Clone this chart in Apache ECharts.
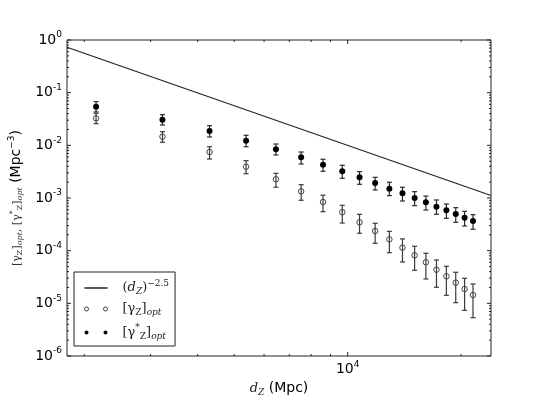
<!DOCTYPE html>
<html>
<head>
<meta charset="utf-8">
<script src="https://cdn.jsdelivr.net/npm/echarts@6.0.0/dist/echarts.min.js"></script>
<style>
html, body { margin: 0; padding: 0; background: #fff; }
#chart { width: 545px; height: 396px; }
</style>
</head>
<body>
<div id="chart"></div>
<script>
// distance bins d_Z (Mpc)
var dz = [2150, 3225, 4300, 5375, 6450, 7525, 8600, 9675, 10750, 11825, 12900, 13975, 15050, 16125, 17200, 18275, 19350, 20425, 21500];

// [gamma*_Z]_opt (filled) with error bar ends
var gStar   = [0.0542, 0.0307, 0.0187, 0.01225, 0.00841, 0.00593, 0.00429, 0.00321, 0.00247, 0.00193, 0.00150, 0.00123, 0.00100, 0.000829, 0.000684, 0.000584, 0.000497, 0.000423, 0.000366];
var gStarLo = [0.0430, 0.0243, 0.0144, 0.00942, 0.00656, 0.00442, 0.00321, 0.00237, 0.00182, 0.00142, 0.00111, 0.000877, 0.000715, 0.000592, 0.000491, 0.000412, 0.000346, 0.000294, 0.000255];
var gStarHi = [0.0674, 0.0382, 0.0236, 0.01551, 0.01060, 0.00747, 0.00543, 0.00418, 0.00316, 0.00247, 0.00199, 0.00160, 0.00132, 0.00109, 0.000917, 0.000769, 0.000655, 0.000559, 0.000482];

// [gamma_Z]_opt (open) with error bar ends
var gOpt   = [0.0326, 0.01459, 0.00747, 0.00393, 0.00227, 0.00134, 0.000840, 0.000536, 0.000346, 0.000236, 0.000164, 0.000114, 8.17e-5, 6.02e-5, 4.35e-5, 3.26e-5, 2.47e-5, 1.87e-5, 1.44e-5];
var gOptLo = [0.0258, 0.01142, 0.00550, 0.00289, 0.00160, 0.000905, 0.000550, 0.000335, 0.000214, 0.000138, 9.15e-5, 6.10e-5, 4.24e-5, 2.90e-5, 2.02e-5, 1.42e-5, 1.03e-5, 7.38e-6, 5.34e-6];
var gOptHi = [0.0406, 0.01815, 0.00942, 0.00511, 0.00294, 0.00179, 0.00113, 0.000727, 0.000491, 0.000331, 0.000233, 0.000167, 0.000121, 8.92e-5, 6.65e-5, 5.05e-5, 3.89e-5, 2.99e-5, 2.33e-5];

// (d_Z)^-2.5 reference line, end points
var powX = [1800, 24000];
var powY = [0.727, 0.00112];

// axes
var xMin = 1800, xMax = 24000, yMin = 1e-6, yMax = 1;
var xMajor = [10000];
var xMinor = [2000, 3000, 4000, 5000, 6000, 7000, 8000, 9000, 20000];
var yMajor = [1e-6, 1e-5, 1e-4, 1e-3, 1e-2, 1e-1, 1];
var mantissa = [2, 3, 4, 5, 6, 7, 8, 9];

var serif = 'DejaVu Serif';
var sans = 'DejaVu Sans';

var tickData = [];
xMajor.forEach(function (v) { tickData.push([v, yMin, 0, -4], [v, yMax, 0, 4]); });
xMinor.forEach(function (v) { tickData.push([v, yMin, 0, -2], [v, yMax, 0, 2]); });
yMajor.forEach(function (v) { tickData.push([xMin, v, 4, 0], [xMax, v, -4, 0]); });
for (var k = 0; k < yMajor.length - 1; k++) {
	mantissa.forEach(function (m) {
		var v = m * yMajor[k];
		tickData.push([xMin, v, 2, 0], [xMax, v, -2, 0]);
	});
}

function errData(lo, hi) {
	return dz.map(function (x, i) { return [x, lo[i], hi[i]]; });
}

function renderErr(color) {
	return function (params, api) {
		var x = api.value(0);
		var a = api.coord([x, api.value(1)]);
		var b = api.coord([x, api.value(2)]);
		var w = 2.5;
		var st = { stroke: color, lineWidth: 1.2 };
		return {
			type: 'group',
			children: [
				{ type: 'line', shape: { x1: a[0], y1: a[1], x2: b[0], y2: b[1] }, style: st },
				{ type: 'line', shape: { x1: a[0] - w, y1: a[1], x2: a[0] + w, y2: a[1] }, style: st },
				{ type: 'line', shape: { x1: b[0] - w, y1: b[1], x2: b[0] + w, y2: b[1] }, style: st }
			]
		};
	};
}

function renderTick(params, api) {
	var p = api.coord([api.value(0), api.value(1)]);
	return {
		type: 'line',
		shape: { x1: p[0], y1: p[1], x2: p[0] + api.value(2), y2: p[1] + api.value(3) },
		style: { stroke: '#222', lineWidth: 1 }
	};
}

function powLabel(v) {
	var e = Math.log(v) / Math.LN10;
	var n = Math.round(e);
	if (Math.abs(e - n) > 1e-6) return '';
	return '{b|10}{e|' + n + '}';
}

var mathRich = {
	n: { fontFamily: serif, fontSize: 13, color: '#222' },
	i: { fontFamily: serif, fontStyle: 'italic', fontSize: 13, color: '#222' },
	sub: { fontFamily: serif, fontSize: 9, color: '#222', padding: [8, 0, 0, 0] },
	subi: { fontFamily: serif, fontStyle: 'italic', fontSize: 9, color: '#222', padding: [8, 0, 0, 0] },
	sup: { fontFamily: serif, fontSize: 9, color: '#222', padding: [0, 0, 9, 0] },
	s: { fontFamily: sans, fontSize: 14, color: '#000' },
	ssup: { fontFamily: sans, fontSize: 9, color: '#000', padding: [0, 0, 10, 0] },
	sp: { width: 10 }
};

// smaller math for the rotated y axis title
var yNameRich = {
	n: { fontFamily: serif, fontSize: 11, color: '#333' },
	sub: { fontFamily: serif, fontSize: 8, color: '#333', padding: [7, 0, 0, 0] },
	subi: { fontFamily: serif, fontStyle: 'italic', fontSize: 8, color: '#333', padding: [7, 0, 0, 0] },
	sup: { fontFamily: serif, fontSize: 8, color: '#333', padding: [0, 0, 8, 0] },
	s: { fontFamily: sans, fontSize: 14, color: '#000' },
	ssup: { fontFamily: sans, fontSize: 9, color: '#000', padding: [0, 0, 10, 0] }
};

var labelRich = {
	b: { fontFamily: sans, fontSize: 14, color: '#000' },
	e: { fontFamily: sans, fontSize: 9, color: '#000', padding: [0, 0, 10, 0] }
};

var legendText = {
	'line': '{sp|}{n|(}{i|d}{subi|Z}{n|)}{sup|−2.5}',
	'open': '{sp|}{n|[γ}{sub|Z}{n|]}{subi|opt}',
	'filled': '{sp|}{n|[γ}{sup|*}{sub|Z}{n|]}{subi|opt}'
};

var twoDots = 'path://M0,2a2,2 0 1,0 4,0a2,2 0 1,0 -4,0zM19,2a2,2 0 1,0 4,0a2,2 0 1,0 -4,0z';

var myChart = echarts.init(document.getElementById('chart'), null, { renderer: 'canvas' });
var option = {
	animation: false,
	backgroundColor: '#fff',
	grid: {
		left: 67, right: 54, top: 40, bottom: 40,
		show: true, borderColor: '#222', borderWidth: 1,
		outerBoundsMode: 'none'
	},
	legend: {
		orient: 'vertical',
		left: 74, top: 272,
		padding: [7, 6, 5, 8],
		itemGap: 6,
		itemWidth: 23, itemHeight: 4,
		borderColor: '#222', borderWidth: 1,
		backgroundColor: '#fff',
		formatter: function (name) { return legendText[name]; },
		textStyle: { rich: mathRich },
		data: [
			{ name: 'line', icon: 'path://M0,0L23,0L23,0.01L0,0.01Z', itemStyle: { color: 'none', borderColor: '#222', borderWidth: 1 } },
			{ name: 'open', icon: twoDots, itemStyle: { color: 'none', borderColor: '#444', borderWidth: 1 } },
			{ name: 'filled', icon: twoDots, itemStyle: { color: '#000', borderWidth: 0 } }
		]
	},
	xAxis: {
		type: 'log', logBase: 10, min: xMin, max: xMax,
		axisLine: { show: false },
		axisTick: { show: false },
		splitLine: { show: false },
		axisLabel: { formatter: powLabel, rich: labelRich, margin: 4, showMinLabel: false, showMaxLabel: false },
		name: '{i|d}{subi|Z}{s| (Mpc)}',
		nameLocation: 'middle',
		nameGap: 21,
		nameTextStyle: { rich: mathRich }
	},
	yAxis: {
		type: 'log', logBase: 10, min: yMin, max: yMax,
		axisLine: { show: false },
		axisTick: { show: false },
		splitLine: { show: false },
		axisLabel: { formatter: powLabel, rich: labelRich, margin: 5 },
		name: '{n|[γ}{sub|Z}{n|]}{subi|opt}{n|, [γ}{sup|*}{sub|Z}{n|]}{subi|opt}{s| (Mpc}{ssup|−3}{s|)}',
		nameLocation: 'middle',
		nameRotate: 90,
		nameGap: 38,
		nameTextStyle: { rich: yNameRich }
	},
	series: [
		{
			name: 'line',
			type: 'line',
			data: powX.map(function (x, i) { return [x, powY[i]]; }),
			showSymbol: false,
			symbol: 'none',
			lineStyle: { color: '#222', width: 1.1 },
			z: 2
		},
		{
			name: 'openErr',
			type: 'custom',
			renderItem: renderErr('#3a3a3a'),
			data: errData(gOptLo, gOptHi),
			encode: { x: 0, y: [1, 2] },
			z: 3
		},
		{
			name: 'filledErr',
			type: 'custom',
			renderItem: renderErr('#2a2a2a'),
			data: errData(gStarLo, gStarHi),
			encode: { x: 0, y: [1, 2] },
			z: 3
		},
		{
			name: 'open',
			type: 'scatter',
			data: dz.map(function (x, i) { return [x, gOpt[i]]; }),
			symbol: 'circle',
			symbolSize: 5.5,
			itemStyle: { color: 'none', borderColor: '#444', borderWidth: 1, opacity: 1 },
			z: 4
		},
		{
			name: 'filled',
			type: 'scatter',
			data: dz.map(function (x, i) { return [x, gStar[i]]; }),
			symbol: 'circle',
			symbolSize: 6,
			itemStyle: { color: '#000', opacity: 1 },
			z: 5
		},
		{
			name: 'ticks',
			type: 'custom',
			renderItem: renderTick,
			data: tickData,
			encode: { x: 0, y: 1 },
			silent: true,
			z: 6
		}
	]
};
myChart.setOption(option);
</script>
</body>
</html>
